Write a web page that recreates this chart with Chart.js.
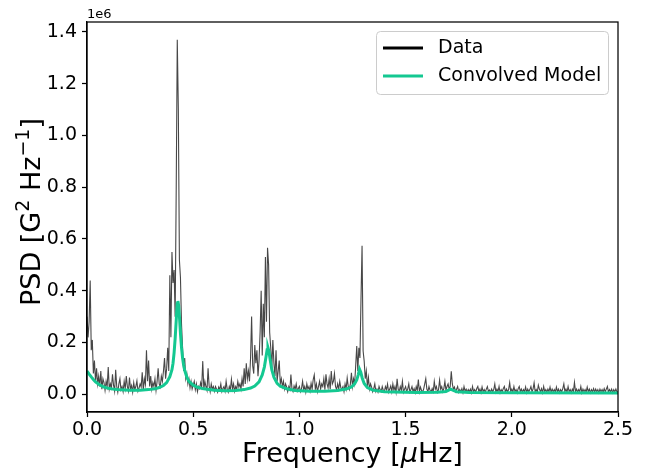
<!DOCTYPE html>
<html>
<head>
<meta charset="utf-8">
<script src="https://cdn.jsdelivr.net/npm/chart.js@4.4.0/dist/chart.umd.min.js"></script>
<style>
  html, body { margin: 0; padding: 0; background: #fff; }
</style>
</head>
<body>
<canvas id="psdChart" width="649" height="469"></canvas>
<script>
// PSD values in units of 1e6, on a 0.005 uHz grid from 0 to 2.5 (one row = 0.1 uHz)
const psd = [
    0.30, 0.22, 0.28, 0.44, 0.17, 0.21, 0.08, 0.13, 0.05, 0.10, 0.04, 0.07, 0.03, 0.09, 0.02, 0.06, 0.045, 0.015, 0.05, 0.03,
    0.105, 0.02, 0.04, 0.025, 0.077, 0.035, 0.012, 0.095, 0.03, 0.008, 0.04, 0.06, 0.018, 0.03, 0.01, 0.05, 0.022, 0.07, 0.03, 0.012,
    0.065, 0.02, 0.034, 0.008, 0.045, 0.018, 0.03, 0.052, 0.012, 0.024, 0.04, 0.028, 0.085, 0.015, 0.06, 0.038, 0.17, 0.05, 0.13, 0.03,
    0.07, 0.02, 0.045, 0.03, 0.06, 0.015, 0.05, 0.10, 0.04, 0.028, 0.07, 0.05, 0.09, 0.14, 0.06, 0.10, 0.18, 0.09, 0.46, 0.22,
    0.55, 0.43, 0.48, 0.30, 0.79, 1.37, 1.10, 0.52, 0.45, 0.27, 0.18, 0.09, 0.14, 0.06, 0.08, 0.04, 0.06, 0.025, 0.05, 0.02,
    0.035, 0.05, 0.018, 0.04, 0.01, 0.03, 0.022, 0.045, 0.028, 0.128, 0.02, 0.05, 0.03, 0.015, 0.10, 0.032, 0.01, 0.04, 0.02, 0.03,
    0.012, 0.03, 0.02, 0.008, 0.028, 0.018, 0.04, 0.01, 0.022, 0.03, 0.012, 0.05, 0.02, 0.008, 0.03, 0.018, 0.058, 0.02, 0.04, 0.012,
    0.03, 0.02, 0.05, 0.028, 0.04, 0.02, 0.06, 0.03, 0.10, 0.04, 0.12, 0.06, 0.09, 0.05, 0.14, 0.30, 0.11, 0.08, 0.19, 0.12,
    0.17, 0.07, 0.13, 0.24, 0.40, 0.15, 0.35, 0.22, 0.53, 0.28, 0.566, 0.50, 0.24, 0.18, 0.10, 0.21, 0.12, 0.07, 0.17, 0.05,
    0.09, 0.13, 0.04, 0.06, 0.03, 0.05, 0.02, 0.04, 0.028, 0.01, 0.03, 0.018, 0.076, 0.02, 0.01, 0.032, 0.02, 0.04, 0.012, 0.022,
    0.03, 0.01, 0.022, 0.05, 0.018, 0.03, 0.008, 0.04, 0.02, 0.03, 0.012, 0.042, 0.02, 0.057, 0.075, 0.02, 0.04, 0.01, 0.03, 0.05,
    0.02, 0.04, 0.03, 0.06, 0.018, 0.077, 0.04, 0.025, 0.06, 0.02, 0.09, 0.04, 0.05, 0.08, 0.03, 0.018, 0.04, 0.02, 0.05, 0.025,
    0.02, 0.03, 0.01, 0.04, 0.02, 0.063, 0.03, 0.018, 0.04, 0.083, 0.03, 0.06, 0.04, 0.11, 0.186, 0.09, 0.18, 0.14, 0.37, 0.574,
    0.167, 0.128, 0.06, 0.09, 0.03, 0.065, 0.02, 0.04, 0.028, 0.01, 0.022, 0.04, 0.01, 0.02, 0.008, 0.03, 0.018, 0.01, 0.03, 0.015,
    0.01, 0.03, 0.018, 0.04, 0.008, 0.02, 0.032, 0.01, 0.04, 0.015, 0.03, 0.008, 0.06, 0.02, 0.01, 0.03, 0.015, 0.05, 0.008, 0.02,
    0.03, 0.01, 0.02, 0.04, 0.008, 0.018, 0.03, 0.01, 0.022, 0.006, 0.03, 0.015, 0.057, 0.01, 0.028, 0.015, 0.008, 0.02, 0.04, 0.06,
    0.02, 0.01, 0.03, 0.015, 0.008, 0.022, 0.01, 0.05, 0.02, 0.03, 0.008, 0.018, 0.055, 0.02, 0.03, 0.01, 0.022, 0.05, 0.015, 0.03,
    0.04, 0.02, 0.03, 0.089, 0.04, 0.02, 0.028, 0.01, 0.02, 0.03, 0.008, 0.018, 0.01, 0.022, 0.006, 0.03, 0.012, 0.02, 0.008, 0.018,
    0.01, 0.02, 0.006, 0.03, 0.01, 0.018, 0.008, 0.022, 0.03, 0.01, 0.02, 0.006, 0.028, 0.01, 0.018, 0.008, 0.02, 0.03, 0.01, 0.016,
    0.008, 0.02, 0.01, 0.018, 0.04, 0.008, 0.02, 0.01, 0.03, 0.006, 0.018, 0.01, 0.022, 0.03, 0.008, 0.02, 0.01, 0.018, 0.045, 0.01,
    0.02, 0.008, 0.03, 0.01, 0.018, 0.006, 0.022, 0.03, 0.01, 0.02, 0.008, 0.018, 0.01, 0.028, 0.006, 0.02, 0.01, 0.018, 0.03, 0.01,
    0.02, 0.044, 0.01, 0.018, 0.008, 0.035, 0.02, 0.01, 0.022, 0.006, 0.03, 0.01, 0.018, 0.008, 0.02, 0.01, 0.028, 0.008, 0.02, 0.01,
    0.018, 0.008, 0.028, 0.01, 0.02, 0.006, 0.018, 0.01, 0.022, 0.04, 0.01, 0.02, 0.008, 0.03, 0.01, 0.018, 0.006, 0.02, 0.01, 0.046,
    0.01, 0.02, 0.008, 0.018, 0.01, 0.03, 0.006, 0.02, 0.01, 0.018, 0.008, 0.028, 0.01, 0.02, 0.006, 0.018, 0.01, 0.022, 0.008, 0.02,
    0.01, 0.018, 0.006, 0.02, 0.01, 0.018, 0.008, 0.022, 0.01, 0.02, 0.03, 0.008, 0.018, 0.01, 0.02, 0.006, 0.018, 0.01, 0.02, 0.008,
    0.01
];
const freqStep = 0.005;
const freq = psd.map((_, i) => +(i * freqStep).toFixed(3));

// convolved model (1e6 units)
const modelFreq = [
    0.000, 0.010, 0.020, 0.030, 0.040, 0.060, 0.080, 0.100, 0.130, 0.160, 0.200, 0.250, 0.290, 0.320, 0.340, 0.360,
    0.375, 0.390, 0.400, 0.405, 0.410, 0.415, 0.420, 0.425, 0.428, 0.432, 0.436, 0.440, 0.445, 0.450, 0.455, 0.460,
    0.470, 0.480, 0.500, 0.520, 0.550, 0.600, 0.650, 0.700, 0.740, 0.770, 0.790, 0.810, 0.825, 0.835, 0.842, 0.848,
    0.852, 0.857, 0.862, 0.870, 0.880, 0.895, 0.910, 0.940, 0.980, 1.050, 1.120, 1.180, 1.220, 1.245, 1.260, 1.270,
    1.277, 1.283, 1.289, 1.296, 1.305, 1.320, 1.345, 1.400, 1.550, 1.650, 1.690, 1.703, 1.712, 1.722, 1.740, 1.800,
    2.000, 2.500
];
const modelPsd = [
    0.090, 0.078, 0.067, 0.057, 0.048, 0.036, 0.028, 0.023, 0.019, 0.017, 0.016, 0.016, 0.018, 0.021, 0.026, 0.034,
    0.045, 0.068, 0.095, 0.120, 0.160, 0.215, 0.285, 0.350, 0.360, 0.340, 0.290, 0.235, 0.180, 0.140, 0.112, 0.092,
    0.066, 0.050, 0.035, 0.027, 0.021, 0.016, 0.014, 0.015, 0.018, 0.024, 0.032, 0.048, 0.075, 0.105, 0.140, 0.172,
    0.180, 0.165, 0.135, 0.095, 0.066, 0.042, 0.031, 0.021, 0.015, 0.012, 0.012, 0.015, 0.020, 0.028, 0.040, 0.055,
    0.075, 0.097, 0.085, 0.062, 0.042, 0.026, 0.016, 0.010, 0.007, 0.008, 0.011, 0.016, 0.020, 0.016, 0.010, 0.007,
    0.006, 0.005
];

const xTicks = [0, 0.5, 1.0, 1.5, 2.0, 2.5];
const yTicks = [0, 0.2, 0.4, 0.6, 0.8, 1.0, 1.2, 1.4];
const seriesNames = ['Data', 'Convolved Model'];

const green = 'rgb(20, 200, 145)';
const tickFont = { family: "'DejaVu Sans'", size: 19 };

// axis titles with mathtext-like pieces: [text, style] (style: n = normal, i = italic, s = superscript)
const xTitleParts = [['Frequency [', 'n'], ['μ', 'i'], ['Hz]', 'n']];
const yTitleParts = [['PSD [G', 'n'], ['2', 's'], [' Hz', 'n'], ['\u22121', 's'], [']', 'n']];

function drawParts(ctx, parts, cx, cy, angle) {
    const fontOf = (st) => st === 's' ? "19px 'DejaVu Sans'" : (st === 'i' ? "italic 27px 'DejaVu Sans'" : "27px 'DejaVu Sans'");
    ctx.save();
    ctx.translate(cx, cy);
    ctx.rotate(angle);
    ctx.textAlign = 'left';
    ctx.textBaseline = 'alphabetic';
    let total = 0;
    parts.forEach(([t, st]) => { ctx.font = fontOf(st); total += ctx.measureText(t).width; });
    let x = -total / 2;
    parts.forEach(([t, st]) => {
        ctx.font = fontOf(st);
        ctx.fillText(t, x, st === 's' ? -11 : 0);
        x += ctx.measureText(t).width;
    });
    ctx.restore();
}

// box around the axes, axis titles, the 1e6 offset text and a matplotlib style legend
const framePlugin = {
    id: 'frame',
    afterDraw(chart) {
        const ctx = chart.ctx;
        const a = chart.chartArea;
        ctx.save();
        ctx.strokeStyle = '#000';
        ctx.lineWidth = 1.25;
        ctx.strokeRect(a.left, a.top, a.right - a.left, a.bottom - a.top);

        ctx.fillStyle = '#000';
        ctx.font = "13px 'DejaVu Sans'";
        ctx.textAlign = 'left';
        ctx.textBaseline = 'alphabetic';
        ctx.fillText('1e6', a.left, a.top - 4);

        drawParts(ctx, xTitleParts, (a.left + a.right) / 2, 462, 0);
        drawParts(ctx, yTitleParts, 40, 212, -Math.PI / 2);

        // legend
        ctx.beginPath();
        ctx.roundRect(376.5, 31.5, 232, 63, 4);
        ctx.fillStyle = 'rgba(255,255,255,0.8)';
        ctx.fill();
        ctx.strokeStyle = '#cccccc';
        ctx.lineWidth = 1;
        ctx.stroke();
        const rows = [48, 76];
        chart.data.datasets.forEach((ds, i) => {
            ctx.beginPath();
            ctx.moveTo(383, rows[i]);
            ctx.lineTo(423, rows[i]);
            ctx.strokeStyle = ds.legendColor;
            ctx.lineWidth = 3;
            ctx.stroke();
            ctx.fillStyle = '#000';
            ctx.font = "19px 'DejaVu Sans'";
            ctx.textBaseline = 'middle';
            ctx.fillText(ds.label, 438, rows[i]);
        });
        ctx.restore();
    }
};

const ctx = document.getElementById('psdChart').getContext('2d');
const chart = new Chart(ctx, {
    type: 'line',
    data: {
        datasets: [{
            label: seriesNames[0],
            data: freq.map((f, i) => ({ x: f, y: psd[i] })),
            borderColor: 'rgba(0,0,0,0.72)',
            legendColor: '#000',
            borderWidth: 1.1,
            pointRadius: 0,
            tension: 0,
            order: 1
        },
        {
            label: seriesNames[1],
            data: modelFreq.map((f, i) => ({ x: f, y: modelPsd[i] })),
            borderColor: green,
            legendColor: green,
            borderWidth: 3,
            pointRadius: 0,
            tension: 0,
            order: 0
        }]
    },
    options: {
        responsive: false,
        animation: false,
        layout: {
            padding: { top: 22, right: 31, left: 0, bottom: 0 }
        },
        plugins: {
            legend: { display: false },
            tooltip: { enabled: false }
        },
        scales: {
            x: {
                type: 'linear',
                min: 0,
                max: 2.5,
                afterBuildTicks: (s) => { s.ticks = xTicks.map(v => ({ value: v })); },
                afterFit: (s) => { s.height = 57; },
                ticks: {
                    color: '#000',
                    font: tickFont,
                    padding: 2,
                    autoSkip: false,
                    maxRotation: 0,
                    callback: (v) => v.toFixed(1)
                },
                grid: {
                    drawOnChartArea: false,
                    drawTicks: true,
                    tickLength: 5,
                    tickColor: '#000',
                    tickWidth: 1.25
                },
                border: { display: true, color: '#000', width: 1.25 }
            },
            y: {
                type: 'linear',
                min: -0.0685,
                max: 1.4385,
                afterBuildTicks: (s) => { s.ticks = yTicks.map(v => ({ value: v })); },
                afterFit: (s) => { s.width = 87; },
                ticks: {
                    color: '#000',
                    font: tickFont,
                    padding: 5,
                    autoSkip: false,
                    callback: (v) => v.toFixed(1)
                },
                grid: {
                    drawOnChartArea: false,
                    drawTicks: true,
                    tickLength: 5,
                    tickColor: '#000',
                    tickWidth: 1.25
                },
                border: { display: true, color: '#000', width: 1.25 }
            }
        }
    },
    plugins: [framePlugin]
});
</script>
</body>
</html>
